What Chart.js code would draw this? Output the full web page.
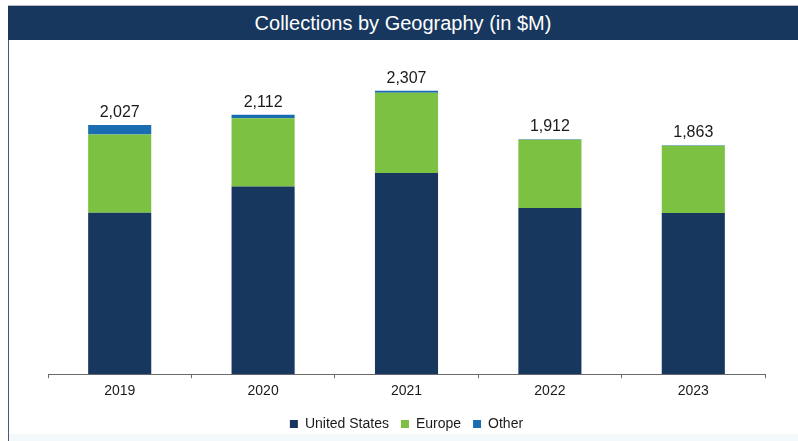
<!DOCTYPE html>
<html>
<head>
<meta charset="utf-8">
<script src="https://cdn.jsdelivr.net/npm/chart.js@4.4.1/dist/chart.umd.min.js"></script>
<style>
  html, body { margin: 0; padding: 0; background: #fff; }
  body { width: 798px; height: 441px; position: relative; overflow: hidden; font-family: "Liberation Sans", Arial, sans-serif; }
  .topline { position: absolute; left: 8px; top: 5px; width: 790px; height: 1px; background: #b8bcc2; }
  .title {
    position: absolute; left: 8px; top: 6px; width: 790px; height: 34px;
    background: #17375e; color: #fff; font-size: 20px; line-height: 34px; text-align: center;
  }
  .frame { position: absolute; left: 8px; top: 40px; width: 790px; height: 401px; border-left: 1px solid #4a5a6e; }
  .bottomband { position: absolute; left: 9px; top: 434px; width: 789px; height: 7px; background: #f3f8fb; }
  canvas { position: absolute; left: 1px; top: 0; }
</style>
</head>
<body>
<div class="topline"></div>
<div class="title">Collections by Geography (in $M)</div>
<div class="frame">
  <canvas id="geoChart" width="789" height="401"></canvas>
</div>
<div class="bottomband"></div>
<script>
const CHART_COLORS = {
  navy: "#17375e",
  green: "#7cc142",
  blue: "#1b6db2",
  text: "#1a1a1a",
  axis: "#6b6b6b",
};

const years = ["2019", "2020", "2021", "2022", "2023"];
const unitedStates = [1314, 1527, 1638, 1353, 1312];
const europe = [637, 555, 653, 554, 548];
const other = [76, 30, 16, 5, 3];
const totals = [2027, 2112, 2307, 1912, 1863];

Chart.defaults.font.family = "'Liberation Sans', Arial, sans-serif";
Chart.defaults.color = CHART_COLORS.text;

const totalLabels = {
  id: "totalLabels",
  afterDatasetsDraw(chart) {
    const ctx = chart.ctx;
    const meta = chart.getDatasetMeta(chart.data.datasets.length - 1);
    ctx.save();
    ctx.font = "16px 'Liberation Sans', Arial, sans-serif";
    ctx.fillStyle = CHART_COLORS.text;
    ctx.textAlign = "center";
    ctx.textBaseline = "alphabetic";
    meta.data.forEach((bar, i) => {
      ctx.fillText(totals[i].toLocaleString("en-US"), bar.x, bar.y - 8);
    });
    ctx.restore();
  },
};

function initChart() {
  const ctx = document.getElementById("geoChart");
  new Chart(ctx, {
    type: "bar",
    data: {
      labels: years,
      datasets: [
        { label: "United States", data: unitedStates, backgroundColor: CHART_COLORS.navy },
        { label: "Europe", data: europe, backgroundColor: CHART_COLORS.green },
        { label: "Other", data: other, backgroundColor: CHART_COLORS.blue },
      ],
    },
    options: {
      responsive: false,
      animation: false,
      datasets: { bar: { barPercentage: 0.44, categoryPercentage: 1 } },
      layout: { padding: { top: 27, left: 38, right: 34, bottom: 0 } },
      scales: {
        x: {
          stacked: true,
          grid: { drawOnChartArea: false, drawTicks: true, tickLength: 4, color: CHART_COLORS.axis },
          border: { display: true, color: CHART_COLORS.axis },
          ticks: { font: { size: 14 }, color: CHART_COLORS.text, padding: 5 },
        },
        y: { stacked: true, display: false, min: 0, max: 2500 },
      },
      plugins: {
        legend: {
          position: "bottom",
          labels: { boxWidth: 8, boxHeight: 8, padding: 12, font: { size: 14 }, color: CHART_COLORS.text },
        },
        tooltip: { enabled: false },
      },
    },
    plugins: [totalLabels],
  });
}

document.addEventListener("DOMContentLoaded", initChart);
</script>
</body>
</html>
